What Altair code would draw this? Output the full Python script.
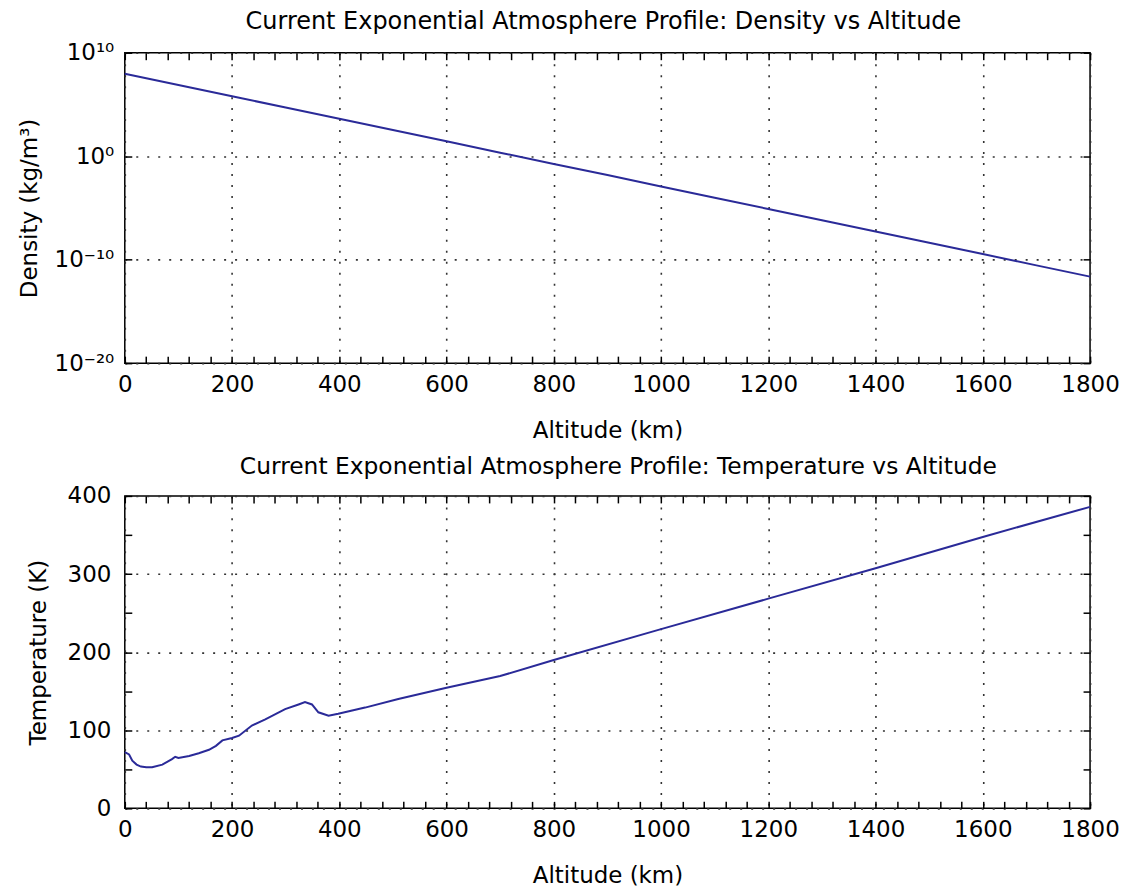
import altair as alt
import pandas as pd

FONT = "DejaVu Sans"
BLUE = "#2a2a98"
GRID = "#333333"

# ---- data ----
altitude_km = [0, 100, 200, 300, 400, 500, 600, 700, 800, 900,
               1000, 1100, 1200, 1300, 1400, 1500, 1600, 1700, 1800]
density_kg_m3 = [9.3e7, 7.6e6, 6.2e5, 5.0e4, 4.1e3, 3.4e2, 2.75e1, 2.2, 1.8e-1, 1.5e-2,
                 1.2e-3, 9.8e-5, 7.9e-6, 6.5e-7, 5.2e-8, 4.3e-9, 3.5e-10, 2.8e-11, 2.3e-12]

temp_altitude_km = [0, 8, 14, 22, 30, 40, 51, 70, 88, 94, 100, 120, 138, 157, 170, 182,
                    200, 213, 237, 262, 299, 324, 336, 349, 361, 380, 398, 448, 510,
                    600, 700, 800, 1000, 1200, 1400, 1600, 1800]
temperature_k = [72, 69, 61, 56, 53.5, 52.5, 52.6, 56, 63, 66, 64.5, 67, 70.5, 75, 80, 87,
                 90, 93, 106, 114, 127, 133, 136, 133, 123, 118.5, 121, 129, 140,
                 154.5, 169.4, 190, 229.5, 268.5, 307.5, 347.5, 386]

x_major_ticks = [0, 200, 400, 600, 800, 1000, 1200, 1400, 1600, 1800]
x_minor_ticks = list(range(0, 1801, 40))
density_ticks = [1e-20, 1e-10, 1, 1e10]
density_tick_labels = ["10\u207b\u00b2\u2070", "10\u207b\u00b9\u2070", "10\u2070", "10\u00b9\u2070"]
temp_major_ticks = [0, 100, 200, 300, 400]
temp_minor_ticks = [0, 50, 100, 150, 200, 250, 300, 350, 400]

title_top = "Current Exponential Atmosphere Profile: Density vs Altitude"
title_bottom = "Current Exponential Atmosphere Profile: Temperature vs Altitude"

W = 967
H_TOP, H_BOTTOM = 311, 313
TICK = 7
FS = 23

# label expression for the log axis
parts = list(zip(density_ticks, density_tick_labels))
expr = "'%s'" % parts[-1][1]
for v, lab in reversed(parts[:-1]):
    expr = "datum.value < %g ? '%s' : %s" % (v * 3.0, lab, expr)


def tick_axis(orient, values):
    return alt.Axis(orient=orient, values=values, ticks=True, tickSize=TICK, tickWidth=1.5,
                    tickColor="black", labels=False, domain=False, grid=False,
                    offset=-TICK, title=None, minExtent=0)


def panel(df, xf, yf, xscale, yscale, x_main_axis, y_main_axis, x_tick_vals, y_tick_vals,
          title, title_fs, dx, offset, height):
    base = alt.Chart(df)
    main = base.mark_line(color=BLUE, strokeWidth=2).encode(
        x=alt.X(xf, scale=xscale, axis=x_main_axis),
        y=alt.Y(yf, scale=yscale, axis=y_main_axis),
    )
    t1 = base.mark_line(strokeOpacity=0).encode(
        x=alt.X(xf, scale=xscale, axis=tick_axis("bottom", x_tick_vals)),
        y=alt.Y(yf, scale=yscale, axis=tick_axis("left", y_tick_vals)),
    )
    t2 = base.mark_line(strokeOpacity=0).encode(
        x=alt.X(xf, scale=xscale, axis=tick_axis("top", x_tick_vals)),
        y=alt.Y(yf, scale=yscale, axis=tick_axis("right", y_tick_vals)),
    )
    return alt.layer(main, t1, t2).resolve_axis(x="independent", y="independent").properties(
        width=W, height=height,
        title=alt.TitleParams(text=title, fontSize=title_fs, font=FONT, fontWeight="normal",
                              color="black", anchor="middle", frame="group",
                              offset=offset, dx=dx),
    )


def x_axis():
    return alt.Axis(orient="bottom", values=x_major_ticks, grid=True, gridDash=[2, 9],
                    gridColor=GRID, gridWidth=1.6, ticks=False, domain=False,
                    labelPadding=10, labelFlush=False, labelOverlap=False, format="d",
                    title="Altitude (km)", titlePadding=23)


xscale = alt.Scale(domain=[0, 1800], nice=False, zero=False)

dens_df = pd.DataFrame({"alt": altitude_km, "rho": density_kg_m3})
top = panel(
    dens_df, "alt:Q", "rho:Q", xscale,
    alt.Scale(type="log", domain=[1e-20, 1e10], nice=False),
    x_axis(),
    alt.Axis(orient="left", values=density_ticks, labelExpr=expr, grid=True, gridDash=[2, 9],
             gridColor=GRID, gridWidth=1.6, ticks=False, domain=False, labelPadding=11,
             title="Density (kg/m\u00b3)", titlePadding=11, minExtent=72, maxExtent=72),
    x_minor_ticks, density_ticks, title_top, 24, -4, 8, H_TOP,
)

temp_df = pd.DataFrame({"alt": temp_altitude_km, "T": temperature_k})
bottom = panel(
    temp_df, "alt:Q", "T:Q", xscale,
    alt.Scale(domain=[0, 400], nice=False),
    x_axis(),
    alt.Axis(orient="left", values=temp_major_ticks, grid=True, gridDash=[2, 9],
             gridColor=GRID, gridWidth=1.6, ticks=False, domain=False, labelPadding=14,
             format="d", title="Temperature (K)", titlePadding=12, minExtent=62, maxExtent=62),
    x_minor_ticks, temp_minor_ticks, title_bottom, 23.4, 11, 6, H_BOTTOM,
)

chart = alt.vconcat(top, bottom, spacing=10).properties(
    padding={"left": 10, "top": 0, "right": 0, "bottom": 0},
    background="white",
).configure_view(
    stroke="black", strokeWidth=1.5
).configure_axis(
    labelFont=FONT, labelFontSize=FS, labelColor="black",
    titleFont=FONT, titleFontSize=FS, titleColor="black", titleFontWeight="normal",
)

chart.save("out.html", embed_options={"renderer": "svg", "actions": False})
